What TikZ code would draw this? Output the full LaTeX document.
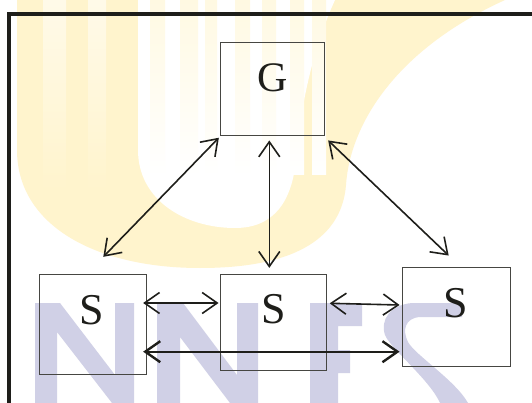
\documentclass[tikz,border=0pt]{standalone}
\usepackage{fontspec}
\setmainfont{Liberation Serif}
\usetikzlibrary{arrows.meta,calc}
\definecolor{wmY}{RGB}{255,244,205}
\definecolor{wmYl}{RGB}{255,249,226}
\definecolor{wmL}{RGB}{208,208,230}
\definecolor{ink}{RGB}{30,30,26}
\definecolor{boxc}{RGB}{70,70,66}
\begin{document}
\begin{tikzpicture}[x=1pt,y=-1pt,
  box/.style={draw=boxc, line width=0.9pt, inner sep=0pt},
  lbl/.style={text=ink, inner sep=0pt},
  tipb/.tip={Straight Barb[length=15pt,width=21pt]},
  link/.style={draw=ink, line width=1.6pt, tipb-tipb},
  wmstripe/.style={top color=wmYl, bottom color=white},
  wmgap/.style={top color=white!55!wmY, bottom color=wmY}
]
\useasboundingbox (0,0) rectangle (532,403);
\fill[white] (0,0) rectangle (532,403);
% ---- watermark: yellow U ----
\fill[wmY] (17,0) -- (17,150) .. controls (17,225) and (95,268) .. (200,268)
  .. controls (300,268) and (342,235) .. (346,185)
  .. controls (350,125) and (395,50) .. (505,0) -- cycle;
\fill[white] (138,0) -- (138,150) .. controls (138,200) and (185,228) .. (235,228)
  .. controls (275,228) and (292,200) .. (296,160)
  .. controls (300,110) and (312,50) .. (335,0) -- cycle;
\foreach \a/\b in {150/165,180/198,205/217,235/250,262/276,290/304,312/326}
  \fill[wmstripe] (\a,0) rectangle (\b,175);
\foreach \a/\b in {43/66,88/106}
  \fill[wmgap] (\a,0) rectangle (\b,190);
% ---- watermark: lavender letters ----
\fill[wmL] (35,403) -- (35,303) -- (60,303) -- (115,375) -- (115,303) -- (134,303)
  -- (134,403) -- (112,403) -- (57,332) -- (57,403) -- cycle;
\fill[wmL] (157,403) -- (157,303) -- (183,303) -- (237,375) -- (237,303) -- (258,303)
  -- (258,403) -- (230,403) -- (180,337) -- (180,403) -- cycle;
\fill[wmL] (310,403) -- (310,303) -- (362,303) -- (362,326) -- (338,326) -- (338,350)
  -- (350,350) -- (350,373) -- (338,373) -- (338,403) -- cycle;
\fill[wmL] (462,303) -- (412,303) .. controls (390,305) and (380,320) .. (385,335)
  .. controls (390,348) and (430,380) .. (440,403) -- (468,403)
  .. controls (455,380) and (415,355) .. (408,342)
  .. controls (402,330) and (405,318) .. (420,317) -- (462,317) -- cycle;
% ---- frame ----
\draw[ink, line width=4pt] (8.7,403) -- (8.7,14) -- (532,14);
% ---- boxes ----
\node[box, minimum width=103.6pt, minimum height=93.7pt] (G) at (272.5,88.85) {};
\node[box, minimum width=106.7pt, minimum height=99.7pt] (S1) at (92.65,324.15) {};
\node[box, minimum width=106pt, minimum height=95.7pt] (S2) at (273.7,322.15) {};
\node[box, minimum width=108.4pt, minimum height=98.5pt] (S3) at (456.5,316.75) {};
\node[lbl, font=\fontsize{42}{42}\selectfont] (Gt) at (272.2,77.7) {G};
\node[lbl, font=\fontsize{44}{44}\selectfont] (S1t) at (91.7,309.7) {S};
\node[lbl, font=\fontsize{44}{44}\selectfont] (S2t) at (273.3,308.8) {S};
\node[lbl, font=\fontsize{44}{44}\selectfont] (S3t) at (456,303) {S};
% ---- connectors ----
\draw[link] ($(G.south west)+(-1.4,1.6)$) -- ($(S1.north)+(10.65,-17)$);
\draw[link] ($(G.south)+(-3.2,4.3)$) -- ($(S2.north)+(-4.4,-6)$);
\draw[link] ($(G.south east)+(3.4,4.3)$) -- ($(S3.north)+(-7.8,-11.5)$);
\draw[link] ($(S1.east)+(-3.3,-21.15)$) -- ($(S2.west)+(-1.7,-19.15)$);
\draw[link] ($(S2.east)+(2.6,-18.85)$) -- ($(S3.west)+(-2.3,-11.75)$);
\draw[link, line width=2.4pt] ($(S1.east)+(-3.3,27.55)$) -- ($(S3.west)+(-2.3,34.95)$);
\end{tikzpicture}
\end{document}
